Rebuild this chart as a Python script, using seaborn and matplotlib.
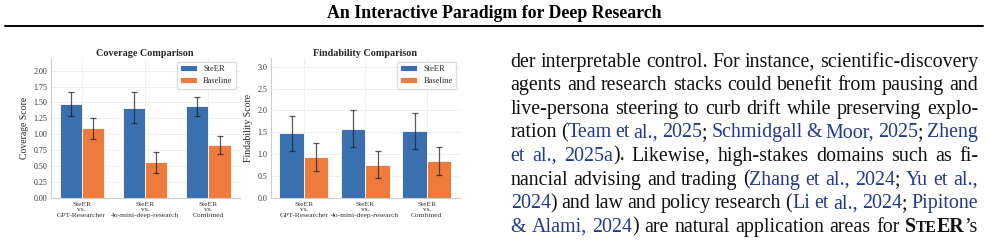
import numpy as np
import pandas as pd
import matplotlib
matplotlib.use('Agg')
import matplotlib.pyplot as plt
from matplotlib.lines import Line2D
import seaborn as sns

# data
comparisons = ['SteER\nvs.\nGPT-Researcher', 'SteER\nvs.\n4o-mini-deep-research', 'SteER\nvs.\nCombined']
methods = ['SteER', 'Baseline']

coverage_steer = [1.47, 1.42, 1.44]
coverage_steer_err = [0.19, 0.25, 0.15]
coverage_base = [1.09, 0.56, 0.83]
coverage_base_err = [0.17, 0.165, 0.14]

find_steer = [1.48, 1.58, 1.53]
find_steer_err = [0.40, 0.42, 0.41]
find_base = [0.93, 0.76, 0.84]
find_base_err = [0.32, 0.30, 0.31]

coverage_ticks = [0, 0.25, 0.5, 0.75, 1.0, 1.25, 1.5, 1.75, 2.0]
find_ticks = [0, 0.5, 1.0, 1.5, 2.0, 2.5, 3.0]

header = 'An Interactive Paradigm for Deep Research'
# {..} = citation (blue), *..* = bold, ^..^ = small caps
body_lines = [
    'der interpretable control. For instance, scientific-discovery',
    'agents and research stacks could benefit from pausing and',
    'live-persona steering to curb drift while preserving explo-',
    'ration ({Team et al., 2025}; {Schmidgall & Moor, 2025}; {Zheng}',
    '{et al., 2025a}). Likewise, high-stakes domains such as fi-',
    'nancial advising and trading ({Zhang et al., 2024}; {Yu et al.,}',
    '{2024}) and law and policy research ({Li et al., 2024}; {Pipitone}',
    '{& Alami, 2024}) are natural application areas for *S^TE^ER*\u2019s',
]

palette = {'SteER': '#3A70B0', 'Baseline': '#EE7A3B'}
cite_color = '#22398F'

sns.set_style('whitegrid')
plt.rcParams['font.family'] = ['Liberation Serif', 'DejaVu Serif']

W, H = 988, 243
fig = plt.figure(figsize=(W / 100, H / 100), dpi=100)


def draw(ax, steer, steer_err, base, base_err, width, xlim, ylim, yticks, title, ylabel):
    df = pd.DataFrame({'comparison': comparisons * 2,
                       'method': ['SteER'] * 3 + ['Baseline'] * 3,
                       'score': steer + base})
    sns.barplot(data=df, x='comparison', y='score', hue='method', hue_order=methods,
                palette=palette, width=width, errorbar=None, saturation=1,
                edgecolor='white', linewidth=0.6, ax=ax)
    for cont, errs in zip(ax.containers, [steer_err, base_err]):
        for bar, e in zip(cont, errs):
            ax.errorbar(bar.get_x() + bar.get_width() / 2, bar.get_height(), yerr=e,
                        fmt='none', ecolor='#222222', alpha=0.75, elinewidth=0.9,
                        capsize=2.2, capthick=0.9, zorder=5)
    ax.set_xlim(*xlim)
    ax.set_ylim(*ylim)
    ax.set_yticks(yticks)
    ax.yaxis.set_major_formatter(matplotlib.ticker.FormatStrFormatter('%.2f' if yticks[1] < 0.5 else '%.1f'))
    ax.grid(True, axis='both', color='#ececec', linewidth=0.6)
    ax.set_axisbelow(True)
    for s in ['top', 'right']:
        ax.spines[s].set_visible(False)
    for s in ['left', 'bottom']:
        ax.spines[s].set_color('#cccccc')
        ax.spines[s].set_linewidth(0.8)
    ax.tick_params(axis='y', labelsize=5.8, pad=2.5, length=0, labelcolor='#333333')
    ax.tick_params(axis='x', labelsize=5.4, pad=3, length=0, labelcolor='#333333')
    for lab in ax.get_xticklabels():
        lab.set_linespacing(1.1)
    ax.set_xlabel('')
    ax.set_ylabel(ylabel, fontsize=7, labelpad=3)
    ax.set_title(title, fontsize=7.3, fontweight='bold', pad=1.5)
    handles, labels = ax.get_legend_handles_labels()
    ax.legend(handles, labels, loc='upper right', fontsize=6, frameon=True,
              edgecolor='#dddddd', framealpha=1, borderaxespad=0.45)


ax1 = fig.add_axes([50.7 / W, (H - 197.7) / H, 188.8 / W, 139.7 / H])
ax2 = fig.add_axes([270.7 / W, (H - 197.7) / H, 189.3 / W, 139.7 / H])
draw(ax1, coverage_steer, coverage_steer_err, coverage_base, coverage_base_err,
     0.7, (-0.49, 2.49), (0, 2.2), coverage_ticks, 'Coverage Comparison', 'Coverage Score')
draw(ax2, find_steer, find_steer_err, find_base, find_base_err,
     0.8, (-0.54, 2.54), (0, 3.2), find_ticks, 'Findability Comparison', 'Findability Score')

# page header and rule
fig.text(0.5, 1 - 18.3 / H, header, ha='center', va='baseline', fontsize=12.8,
         fontweight='bold', color='black')
fig.add_artist(Line2D([5 / W, 983 / W], [1 - 25.7 / H] * 2, color='black', linewidth=1.4,
                      transform=fig.transFigure))


def parse(line):
    words = []
    blue = bold = small = False
    for word in line.split(' '):
        runs, buf = [], ''
        for ch in word:
            if ch in '{}*^':
                if buf:
                    runs.append((buf, blue, bold, small))
                    buf = ''
                if ch == '{':
                    blue = True
                elif ch == '}':
                    blue = False
                elif ch == '*':
                    bold = not bold
                else:
                    small = not small
            else:
                buf += ch
        if buf:
            runs.append((buf, blue, bold, small))
        words.append(runs)
    return words


body_size = 14.4
renderer = fig.canvas.get_renderer()
left, right = 510.7, 978.0
for i, line in enumerate(body_lines):
    y = 1 - (66.5 + i * 23.6) / H
    words = []
    for runs in parse(line):
        objs = []
        for txt, blue, bold, small in runs:
            t = fig.text(0, y, txt, fontsize=body_size * (0.78 if small else 1),
                         color=cite_color if blue else '#111111',
                         fontweight='bold' if bold else 'normal', va='baseline', ha='left')
            objs.append(t)
        words.append(objs)
    widths = [[t.get_window_extent(renderer).width for t in objs] for objs in words]
    total = sum(sum(w) for w in widths)
    gap = (right - left - total) / (len(words) - 1)
    x = left
    for objs, ws in zip(words, widths):
        for t, w in zip(objs, ws):
            t.set_x(x / W)
            x += w
        x += gap

fig.savefig('out.png', dpi=100)
